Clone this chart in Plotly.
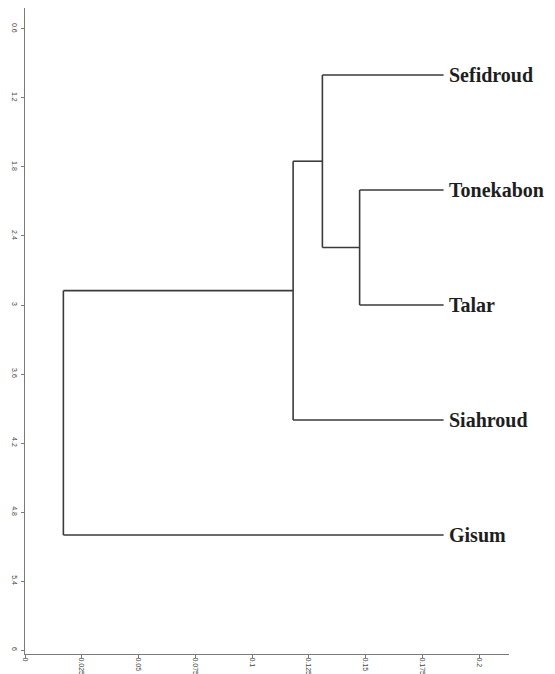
import plotly.graph_objects as go

# Leaves (top to bottom) and their positions on the vertical axis
leaf_names = ["Sefidroud", "Tonekabon", "Talar", "Siahroud", "Gisum"]
leaf_pos = [1, 2, 3, 4, 5]
leaf_dist = 0.1844  # where leaf branches end

# Merges: (child_a, child_b, distance); nodes 0..4 are leaves, 5.. are merges
merge_a = [1, 0, 6, 7]
merge_b = [2, 5, 3, 4]
merge_dist = [0.1474, 0.1310, 0.1181, 0.0169]

x_ticks = [0, 0.025, 0.05, 0.075, 0.1, 0.125, 0.15, 0.175, 0.2]
x_tick_text = ["0", "0.025", "0.05", "0.075", "0.1", "0.125", "0.15", "0.175", "0.2"]
y_ticks = [0.6, 1.2, 1.8, 2.4, 3.0, 3.6, 4.2, 4.8, 5.4, 6.0]
y_tick_text = ["0.6", "1.2", "1.8", "2.4", "3", "3.6", "4.2", "4.8", "5.4", "6"]

# Build dendrogram segments
node_y = list(leaf_pos)
node_x = [leaf_dist] * len(leaf_pos)
xs, ys = [], []
for a, b, d in zip(merge_a, merge_b, merge_dist):
    ya, yb = node_y[a], node_y[b]
    xs += [node_x[a], d, None]
    ys += [ya, ya, None]
    xs += [node_x[b], d, None]
    ys += [yb, yb, None]
    xs += [d, d, None]
    ys += [ya, yb, None]
    node_y.append((ya + yb) / 2)
    node_x.append(d)

fig = go.Figure()
fig.add_trace(go.Scatter(x=xs, y=ys, mode="lines",
                         line=dict(color="#3a3a3a", width=1.6),
                         hoverinfo="skip", showlegend=False))

for name, p in zip(leaf_names, leaf_pos):
    fig.add_annotation(x=leaf_dist, y=p, text="<b>" + name + "</b>",
                       xanchor="left", yanchor="middle", xshift=3, showarrow=False,
                       font=dict(family="Liberation Serif", size=20, color="#1e1e1e"))

tick_font = dict(family="Liberation Sans Narrow, Arial Narrow, Liberation Sans",
                 size=7, color="#444")

# page body has an 8px default margin, so the figure is sized to fit the window
fig.update_layout(
    width=547, height=666,
    margin=dict(l=17, r=46, t=0, b=20),
    plot_bgcolor="white", paper_bgcolor="white",
    showlegend=False,
)
fig.update_xaxes(range=[0, 0.2132], tickvals=x_ticks, ticktext=x_tick_text,
                 tickangle=90, showgrid=False, zeroline=False, automargin=False,
                 showline=True, linecolor="#7a7a7a", linewidth=1.2,
                 ticks="outside", ticklen=3, tickcolor="#7a7a7a",
                 ticklabelstandoff=-2, tickfont=tick_font)
fig.update_yaxes(range=[6.034, 0.418], tickvals=y_ticks, ticktext=y_tick_text,
                 tickangle=90, showgrid=False, zeroline=False, automargin=False,
                 showline=True, linecolor="#7a7a7a", linewidth=1.2,
                 ticks="outside", ticklen=3, tickcolor="#7a7a7a",
                 tickfont=tick_font)

fig.write_html("out.html")
